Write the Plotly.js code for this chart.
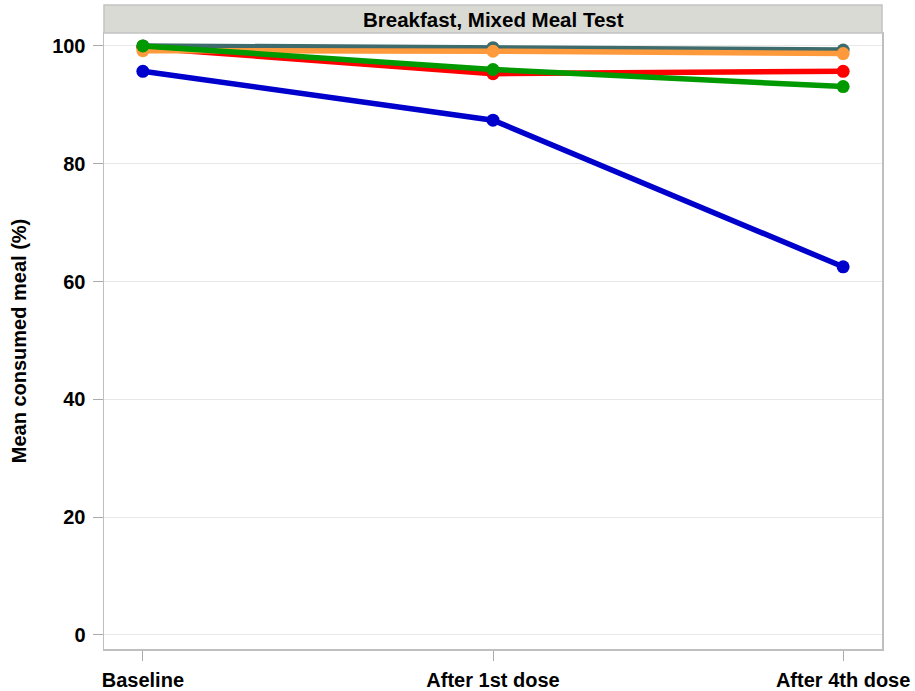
<!DOCTYPE html>
<html>
<head>
<meta charset="utf-8">
<script src="https://cdn.plot.ly/plotly-3.0.1.min.js"></script>
<style>html,body{margin:0;padding:0;background:#fff;}#chart{width:915px;height:691px;}</style>
</head>
<body>
<div id="chart"></div>
<script>
const categories = ["Baseline", "After 1st dose", "After 4th dose"];
const tealValues = [100.0, 99.7, 99.3];
const redValues = [99.7, 95.3, 95.7];
const orangeValues = [99.2, 99.1, 98.7];
const greenValues = [100.0, 96.0, 93.1];
const blueValues = [95.7, 87.4, 62.5];
const yTicks = [0, 20, 40, 60, 80, 100];
const panelTitle = "Breakfast, Mixed Meal Test";
const yTitle = "Mean consumed meal (%)";

const series = [
  {y: tealValues, color: "#3E6B6B"},
  {y: redValues, color: "#FF0000"},
  {y: orangeValues, color: "#FF9A3C"},
  {y: greenValues, color: "#009A00"},
  {y: blueValues, color: "#0000CC"}
];

const xIdx = categories.map((c, i) => i);
const traces = series.map(s => ({
  type: "scatter",
  mode: "lines+markers",
  x: xIdx,
  y: s.y,
  line: {color: s.color, width: 5.5},
  marker: {color: s.color, size: 13},
  showlegend: false,
  hoverinfo: "none"
}));

const family = "Liberation Sans, Arial, sans-serif";
const tickFont = {family: family, size: 20, color: "#000"};
const titleFont = {family: family, size: 20, color: "#000"};
const headerFont = {family: family, size: 20.5, color: "#000"};

const layout = {
  width: 915, height: 691,
  margin: {l: 104, r: 33, t: 33, b: 42},
  paper_bgcolor: "#fff",
  plot_bgcolor: "#fff",
  font: tickFont,
  xaxis: {
    range: [-0.111, 2.111],
    tickvals: xIdx,
    ticktext: categories.map(c => "<b>" + c + "</b>"),
    ticks: "outside", ticklen: 10, tickcolor: "#AAAAAA", tickwidth: 1,
    showgrid: false, zeroline: false,
    showline: true, linecolor: "#BFBFBF", linewidth: 1.5, mirror: true,
    tickfont: tickFont,
    ticklabelstandoff: 2
  },
  yaxis: {
    range: [-2.4, 102.2],
    tickvals: yTicks,
    ticktext: yTicks.map(v => "<b>" + v + "</b>"),
    ticks: "outside", ticklen: 10, tickcolor: "#AAAAAA", tickwidth: 1,
    showgrid: true, gridcolor: "#E8E8E8", gridwidth: 1,
    zeroline: false,
    showline: true, linecolor: "#BFBFBF", linewidth: 1.5, mirror: true,
    tickfont: tickFont,
    ticklabelstandoff: 3,
    title: {text: "<b>" + yTitle + "</b>", font: titleFont, standoff: 20}
  },
  shapes: [{
    type: "rect", xref: "paper", yref: "paper",
    x0: 0, x1: 1, y0: 1, y1: 1 + 28 / 616,
    fillcolor: "#D9DAD4", line: {color: "#C4C4C4", width: 1.5}
  }],
  annotations: [{
    xref: "paper", yref: "paper", x: 0.5, y: 1 + 14 / 616,
    xanchor: "center", yanchor: "middle", showarrow: false,
    text: "<b>" + panelTitle + "</b>", font: headerFont
  }]
};

Plotly.newPlot("chart", traces, layout, {displayModeBar: false, staticPlot: true});
</script>
</body>
</html>
